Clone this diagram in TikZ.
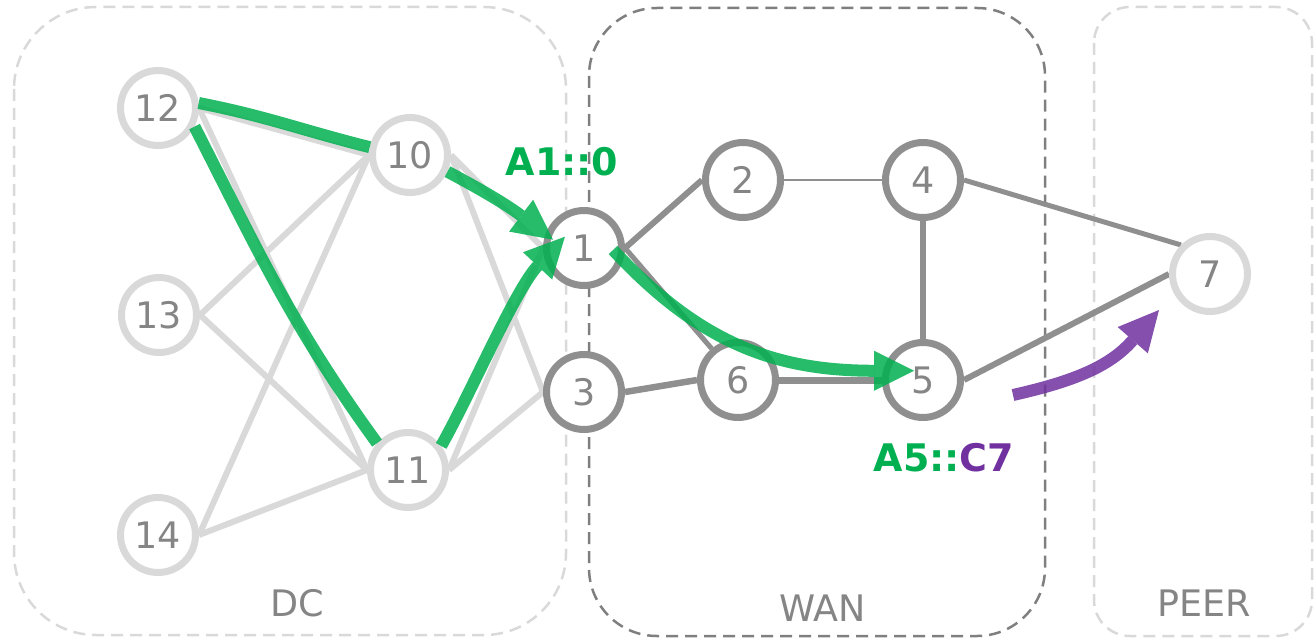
\documentclass[tikz,border=0pt]{standalone}
\usepackage{fontspec}
\setmainfont{DejaVu Sans}
\usetikzlibrary{arrows.meta}
\pgfdeclarelayer{boxlayer}
\pgfdeclarelayer{edgelayer}
\pgfsetlayers{boxlayer,edgelayer,main}
\definecolor{gGreen}{HTML}{00B050}
\definecolor{gPurple}{HTML}{7030A0}
\definecolor{wanGray}{HTML}{8F8F8F}
\definecolor{dcGray}{HTML}{D9D9D9}
\definecolor{boxGray}{HTML}{7F7F7F}
\definecolor{numGray}{HTML}{858585}
\begin{document}
\begin{tikzpicture}[x=1pt,y=1pt,
  dcnode/.style={circle,draw=dcGray,line width=7pt,fill=white,minimum size=75pt,inner sep=0pt,text=numGray,font=\fontsize{36.5}{40}\selectfont},
  wannode/.style={dcnode,draw=wanGray},
  dcedge/.style={draw=dcGray,line width=6pt},
  wanedge/.style={draw=wanGray,line width=#1},
  wanedge/.default=6pt,
  greenline/.style={draw=gGreen,line width=12pt,opacity=0.85},
  greenarrow/.style={greenline,-{Triangle[length=40pt,width=40pt,line width=0pt]}},
  purplearrow/.style={draw=gPurple,line width=12pt,opacity=0.85,-{Triangle[length=40pt,width=40pt,line width=0pt]}},
  lightbox/.style={draw=dcGray,line width=2.5pt,dash pattern=on 12pt off 7pt},
  darkbox/.style={draw=boxGray,line width=2.5pt,dash pattern=on 12pt off 7pt},
  zonelabel/.style={text=numGray,font=\fontsize{36.5}{40}\selectfont},
  pathlabel/.style={font=\fontsize{38}{42}\selectfont\bfseries}
]
\useasboundingbox (0,0) rectangle (1314,-639);

% zones
\begin{pgfonlayer}{boxlayer}
\draw[lightbox,rounded corners=82pt] (14,-7) rectangle (566,-635);
\draw[darkbox,rounded corners=68pt] (589,-8) rectangle (1045,-636);
\draw[lightbox,rounded corners=36pt] (1094,-7) rectangle (1312,-636);
\end{pgfonlayer}
\node[zonelabel] (dclab) at (297,-603) {DC};
\node[zonelabel] (wanlab) at (823,-608) {WAN};
\node[zonelabel] (peerlab) at (1204,-603) {PEER};

% nodes
\node[dcnode] (n12) at (158,-108) {12};
\node[dcnode] (n10) at (410,-155) {10};
\node[dcnode] (n13) at (159,-315) {13};
\node[dcnode] (n11) at (408,-470) {11};
\node[dcnode] (n14) at (158,-535) {14};
\node[wannode] (n1) at (584,-248) {1};
\node[wannode] (n3) at (584,-392) {3};
\node[wannode] (n2) at (743,-180) {2};
\node[wannode] (n4) at (923,-180) {4};
\node[wannode] (n6) at (738,-380) {6};
\node[wannode] (n5) at (923,-380) {5};
\node[dcnode] (n7) at (1210,-274) {7};

% edges
\begin{pgfonlayer}{edgelayer}
\draw[dcedge] (n12.east) -- (n10.west);
\draw[dcedge] (n12.east) -- (n11.west);
\draw[dcedge] (n13.east) -- (n10.west);
\draw[dcedge] (n13.east) -- (n11.west);
\draw[dcedge] (n14.east) -- (n10.west);
\draw[dcedge] (n14.east) -- (n11.west);
\draw[dcedge] (n10.east) -- (n1.west);
\draw[dcedge] (n10.east) -- (n3.west);
\draw[dcedge] (n11.east) -- (n1.west);
\draw[dcedge] (n11.east) -- (n3.west);
\draw[wanedge=6pt] (n1.east) -- (n2.west);
\draw[wanedge=2.5pt] (n2.east) -- (n4.west);
\draw[wanedge=6pt] (n4.south) -- (n5.north);
\draw[wanedge=5pt] (n4.east) -- (n7.135);
\draw[wanedge=6pt] (n5.east) -- (n7.west);
\draw[wanedge=5pt] (n1.east) -- (n6.130);
\draw[wanedge=6.5pt] (n3.east) -- (n6.west);
\draw[wanedge=7pt] (n6.east) -- (n5.west);
\end{pgfonlayer}

% paths
\draw[greenline] (n12.7) to[out=-11,in=166] (n10.169);
\draw[greenarrow,shorten >=-9.5pt] (n10.-24) to[out=-28,in=143] (n1.160);
\draw[greenline] (n12.-27) to[out=-63,in=126] (n11.139);
\draw[greenarrow,shorten >=-30pt] (n11.36) .. controls (470,-395) and (515,-290) .. (n1.195);
\draw[greenarrow,shorten <=-14.6pt,shorten >=-31pt] (n1.-18) to[out=-47,in=180] (n5.167);

\coordinate (ps) at (1013,-395);
\coordinate (pe) at (1159,-310);
\draw[purplearrow] (ps) .. controls (1080,-380) and (1112,-364) .. (pe);

\node[pathlabel,text=gGreen] (lab1) at (562,-162) {A1::0};
\node[pathlabel] (lab5) at (944,-458) {\textcolor{gGreen}{A5::}\textcolor{gPurple}{C7}};
\end{tikzpicture}
\end{document}
